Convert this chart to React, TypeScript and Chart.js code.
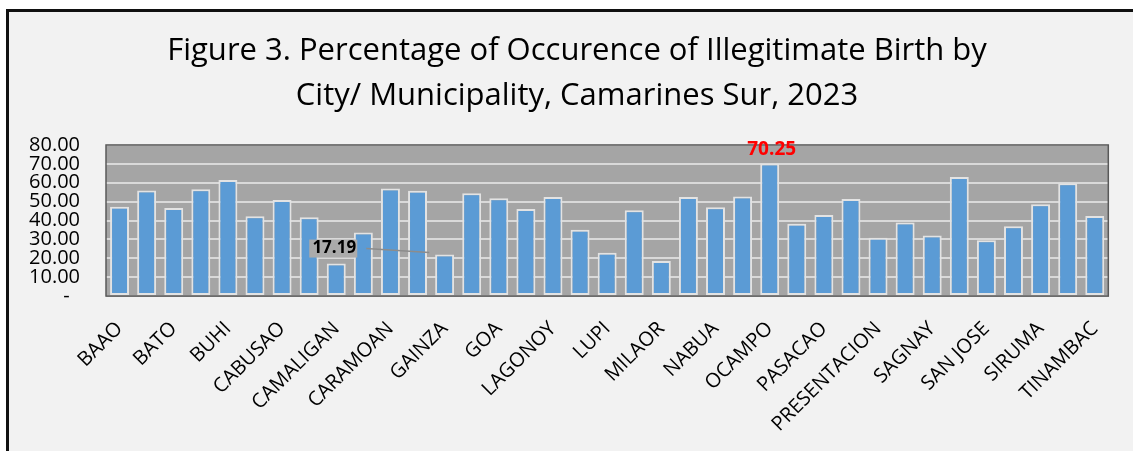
import React, { useEffect, useRef } from "react";
import { Chart, registerables } from "chart.js";

Chart.register(...registerables);

const categories = [
  "BAAO", "BALATAN", "BATO", "BOMBON", "BUHI", "BULA", "CABUSAO", "CALABANGA",
  "CAMALIGAN", "CANAMAN", "CARAMOAN", "DEL GALLEGO", "GAINZA", "GARCHITORENA",
  "GOA", "IRIGA CITY", "LAGONOY", "LIBMANAN", "LUPI", "MAGARAO", "MILAOR",
  "MINALABAC", "NABUA", "NAGA CITY", "OCAMPO", "PAMPLONA", "PASACAO", "PILI",
  "PRESENTACION", "RAGAY", "SAGNAY", "SAN FERNANDO", "SAN JOSE", "SIPOCOT",
  "SIRUMA", "TIGAON", "TINAMBAC",
];

const percentages = [
  47.3, 55.9, 46.6, 56.6, 61.5, 42.2, 50.9, 41.7,
  17.19, 33.7, 56.9, 55.7, 22.0, 54.5,
  51.8, 46.1, 52.5, 35.1, 22.9, 45.4, 18.5,
  52.5, 47.0, 52.7, 70.25, 38.3, 42.9, 51.4,
  30.9, 39.0, 32.1, 63.0, 29.6, 36.9,
  48.6, 59.8, 42.4,
];

const titleLines = [
  "Figure 3. Percentage of Occurence of Illegitimate Birth by",
  "City/ Municipality, Camarines Sur, 2023",
];

const yMin = 0;
const yMax = 80;
const yStep = 10;

const lowestIndex = 8;
const highestIndex = 24;

const FONT = "'Open Sans', 'Noto Sans', sans-serif";

const decorPlugin = {
  id: "decor",
  beforeDraw(chart: any) {
    const { ctx, chartArea } = chart;
    ctx.save();
    ctx.fillStyle = "#A5A5A5";
    ctx.fillRect(chartArea.left, chartArea.top, chartArea.right - chartArea.left, chartArea.bottom - chartArea.top);
    ctx.restore();
  },
  afterDraw(chart: any) {
    const { ctx, chartArea } = chart;
    ctx.save();
    ctx.strokeStyle = "#595959";
    ctx.lineWidth = 1.5;
    ctx.strokeRect(chartArea.left, chartArea.top, chartArea.right - chartArea.left, chartArea.bottom - chartArea.top);

    ctx.fillStyle = "#000";
    ctx.font = `31px ${FONT}`;
    ctx.textAlign = "center";
    ctx.textBaseline = "middle";
    ctx.fillText(titleLines[0], 577, 51);
    ctx.fillText(titleLines[1], 577, 96);

    const meta = chart.getDatasetMeta(0);
    const hi = meta.data[highestIndex];
    ctx.font = `bold 19px ${FONT}`;
    ctx.fillStyle = "#FF0000";
    ctx.fillText(percentages[highestIndex].toFixed(2), hi.x + 2, hi.y - 14);

    const lo = meta.data[lowestIndex];
    const lx = lo.x - 2;
    const ly = lo.y - 15;
    ctx.fillStyle = "#ABABAB";
    ctx.fillRect(lx - 25, ly - 9, 48, 18);
    ctx.strokeStyle = "#8C8C8C";
    ctx.lineWidth = 1.5;
    ctx.beginPath();
    ctx.moveTo(lx + 32, ly);
    ctx.lineTo(lx + 95, ly + 4);
    ctx.stroke();
    ctx.font = `bold 17px ${FONT}`;
    ctx.fillStyle = "#000";
    ctx.fillText(percentages[lowestIndex].toFixed(2), lx, ly);
    ctx.restore();
  },
};

export default function App() {
  const canvasRef = useRef<HTMLCanvasElement | null>(null);

  useEffect(() => {
    const canvas = canvasRef.current;
    if (!canvas) return;
    const chart = new Chart(canvas, {
      type: "bar",
      data: {
        labels: categories,
        datasets: [
          {
            data: percentages,
            backgroundColor: "#5B9BD5",
            borderColor: "#E3E3E3",
            borderWidth: 2,
            borderSkipped: false,
            barPercentage: 0.7,
            categoryPercentage: 1,
          },
        ],
      },
      options: {
        responsive: false,
        animation: false,
        devicePixelRatio: 1,
        layout: { padding: { top: 145, right: 20, left: 0, bottom: 0 } },
        plugins: {
          legend: { display: false },
          title: { display: false },
          tooltip: { enabled: false },
        },
        scales: {
          x: {
            grid: { display: false, drawTicks: false },
            border: { display: true, color: "#A6A6A6", width: 1 },
            afterFit(scale: any) {
              scale.height = 155;
            },
            ticks: {
              autoSkip: false,
              maxRotation: 45,
              minRotation: 45,
              padding: 21,
              color: "#000",
              font: { family: FONT, size: 20 },
              callback(_v: any, i: number) {
                return i % 2 === 0 ? categories[i] : "";
              },
            },
          },
          y: {
            min: yMin,
            max: yMax,
            grid: { color: "#D9D9D9", lineWidth: 2, drawTicks: false },
            border: { display: false },
            afterFit(scale: any) {
              scale.width = 106;
            },
            ticks: {
              stepSize: yStep,
              autoSkip: false,
              padding: 26,
              color: "#000",
              font: { family: FONT, size: 20, lineHeight: 1 },
              callback(v: any) {
                const n = Number(v);
                return n === 0 ? "-  " : n.toFixed(2);
              },
            },
          },
        },
      },
      plugins: [decorPlugin],
    });
    return () => chart.destroy();
  }, []);

  return (
    <div style={{ position: "fixed", left: 0, top: 0, width: 1133, height: 451, background: "#FFFFFF", overflow: "hidden" }}>
      <div
        style={{
          position: "absolute",
          left: 6,
          top: 9,
          width: 1140,
          height: 460,
          background: "#F2F2F2",
          borderLeft: "3px solid #111",
          borderTop: "3px solid #111",
        }}
      />
      <canvas ref={canvasRef} width={1133} height={451} style={{ position: "absolute", left: 0, top: 0 }} />
    </div>
  );
}
